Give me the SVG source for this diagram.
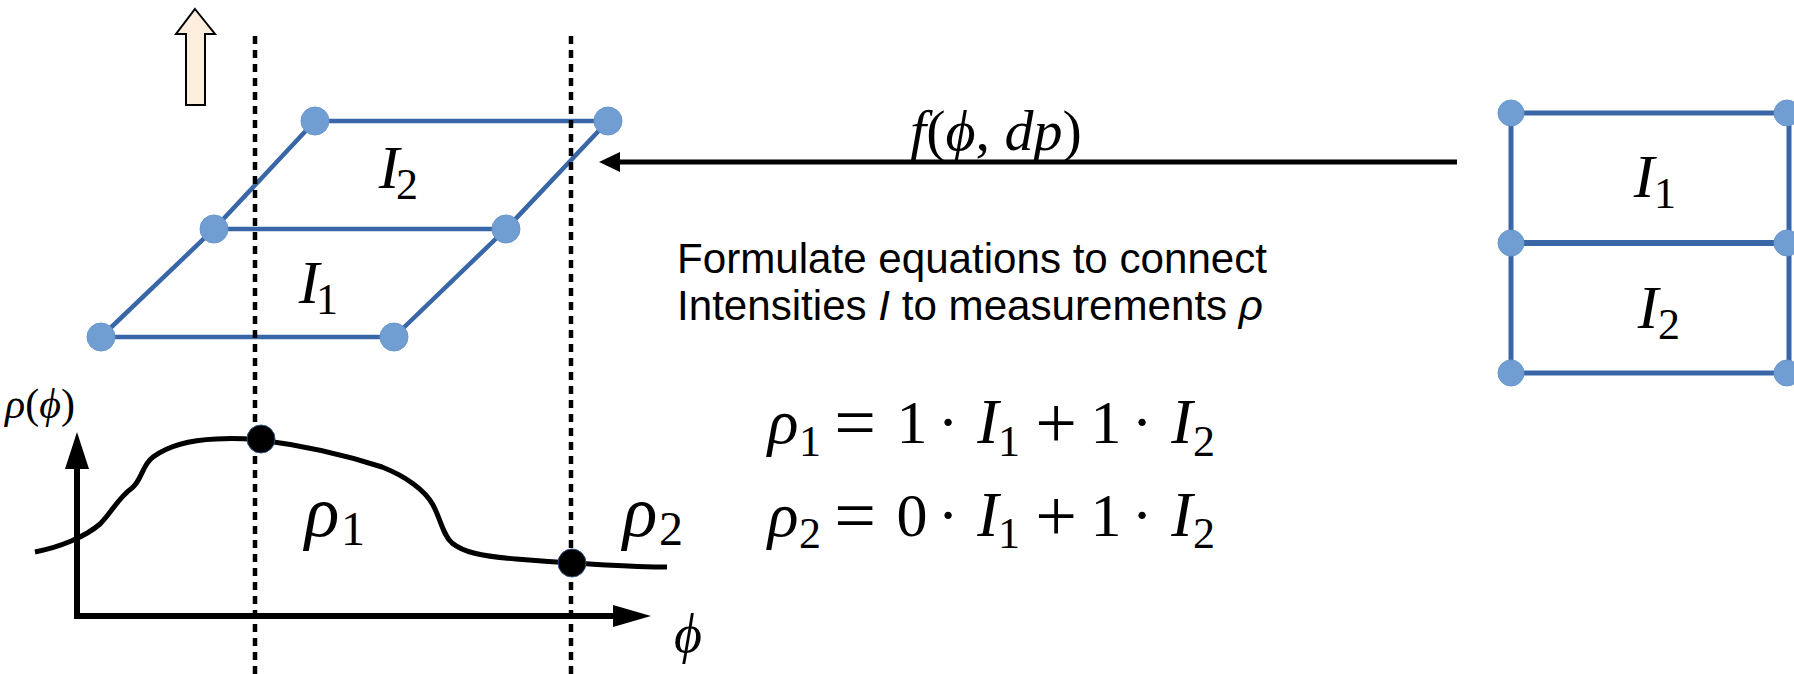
<svg xmlns="http://www.w3.org/2000/svg" width="1794" height="674" viewBox="0 0 1794 674">
<defs>
<style>
.edge{stroke:#3866A7;stroke-width:4.5;fill:none;stroke-linecap:round}
.node{fill:#709DD2;stroke:#6A97CC;stroke-width:1}
.dash{stroke:#000;stroke-width:4.5;stroke-dasharray:8 6;fill:none}
.axis{stroke:#000;stroke-width:6;fill:none}
.m{font-family:"Liberation Serif","DejaVu Serif",serif;font-style:italic;text-anchor:middle;fill:#000}
.r{font-family:"Liberation Serif","DejaVu Serif",serif;font-style:normal;text-anchor:middle;fill:#000}
.ms{font-family:"Liberation Serif","DejaVu Serif",serif;font-style:normal;fill:#000}
.it{font-style:italic}
.sans{font-family:"Liberation Sans",Arial,sans-serif;fill:#000;font-size:42px}
.dot{fill:#000;stroke:#2F4F7F;stroke-width:1}
</style>
</defs>
<rect width="1794" height="674" fill="#fff"/>

<g id="up-arrow">
<polygon points="195,9 215,34 205,34 205,105 186,105 186,34 176,34" fill="#FDEEDD" stroke="#000" stroke-width="2" stroke-linejoin="miter"/>
</g>

<g id="connectors">
<line class="edge" x1="315" y1="121" x2="608" y2="121"/>
<line class="edge" x1="214" y1="229" x2="506" y2="229"/>
<line class="edge" x1="101" y1="337" x2="394" y2="337"/>
<polyline class="edge" points="101,337 214,229 315,121"/>
<polyline class="edge" points="394,337 506,229 608,121"/>
<line class="edge" style="stroke-width:5" x1="1511" y1="113" x2="1789" y2="113"/>
<line class="edge" style="stroke-width:6" x1="1511" y1="243" x2="1789" y2="243"/>
<line class="edge" style="stroke-width:5" x1="1511" y1="373" x2="1789" y2="373"/>
<line class="edge" style="stroke-width:5" x1="1511" y1="113" x2="1511" y2="373"/>
<line class="edge" style="stroke-width:5" x1="1789" y1="113" x2="1789" y2="373"/>
<line x1="1457" y1="162" x2="612" y2="162" stroke="#000" stroke-width="5"/>
<polygon points="599,162 620,152 620,172" fill="#000"/>
</g>

<g id="grid-left">
<circle class="node" cx="315" cy="121" r="14"/>
<circle class="node" cx="608" cy="121" r="14"/>
<circle class="node" cx="214" cy="229" r="14"/>
<circle class="node" cx="506" cy="229" r="14"/>
<circle class="node" cx="101" cy="337" r="14"/>
<circle class="node" cx="394" cy="337" r="14"/>
<text class="m" x="389" y="188" font-size="62">I</text>
<text class="r" x="407" y="199" font-size="44">2</text>
<text class="m" x="309" y="303" font-size="62">I</text>
<text class="r" x="327" y="314" font-size="44">1</text>
</g>

<g id="grid-right">
<circle class="node" cx="1511" cy="113" r="13"/>
<circle class="node" cx="1787" cy="113" r="13"/>
<circle class="node" cx="1511" cy="243" r="13"/>
<circle class="node" cx="1787" cy="243" r="13"/>
<circle class="node" cx="1511" cy="373" r="13"/>
<circle class="node" cx="1787" cy="373" r="13"/>
<text class="m" x="1644" y="197" font-size="62">I</text>
<text class="r" x="1665" y="208" font-size="44">1</text>
<text class="m" x="1648" y="328" font-size="62">I</text>
<text class="r" x="1669" y="339" font-size="44">2</text>
</g>

<g id="mapping-label">
<text class="ms" x="910" y="150" font-size="58"><tspan class="it">f</tspan>(<tspan class="it">ϕ</tspan>, <tspan class="it">dp</tspan>)</text>
</g>

<g id="description">
<text class="sans" x="677" y="273" textLength="590" lengthAdjust="spacingAndGlyphs">Formulate equations to connect</text>
<text class="sans" x="677" y="320" textLength="586" lengthAdjust="spacingAndGlyphs">Intensities <tspan font-style="italic">I</tspan> to measurements <tspan font-style="italic">ρ</tspan></text>
</g>

<g id="equations">
<text class="m" x="783" y="443" font-size="64">ρ</text>
<text class="r" x="810" y="456" font-size="44">1</text>
<text class="r" x="855" y="447" font-size="74">=</text>
<text class="r" x="912" y="443" font-size="62">1</text>
<text class="r" x="948" y="443" font-size="62">·</text>
<text class="m" x="988" y="443" font-size="64">I</text>
<text class="r" x="1009" y="456" font-size="44">1</text>
<text class="r" x="1056" y="448" font-size="74">+</text>
<text class="r" x="1106" y="443" font-size="62">1</text>
<text class="r" x="1142" y="443" font-size="62">·</text>
<text class="m" x="1182" y="443" font-size="64">I</text>
<text class="r" x="1204" y="456" font-size="44">2</text>

<text class="m" x="783" y="536" font-size="64">ρ</text>
<text class="r" x="810" y="548" font-size="44">2</text>
<text class="r" x="855" y="540" font-size="74">=</text>
<text class="r" x="912" y="536" font-size="62">0</text>
<text class="r" x="948" y="536" font-size="62">·</text>
<text class="m" x="988" y="536" font-size="64">I</text>
<text class="r" x="1009" y="548" font-size="44">1</text>
<text class="r" x="1056" y="541" font-size="74">+</text>
<text class="r" x="1106" y="536" font-size="62">1</text>
<text class="r" x="1142" y="536" font-size="62">·</text>
<text class="m" x="1182" y="536" font-size="64">I</text>
<text class="r" x="1204" y="548" font-size="44">2</text>
</g>

<g id="plot">
<line class="axis" x1="77" y1="616" x2="77" y2="466"/>
<polygon points="77,432 65,469 89,469" fill="#000"/>
<line class="axis" x1="74" y1="616" x2="615" y2="616"/>
<polygon points="651,616 613,605 613,627" fill="#000"/>
<path d="M35,552 C60,547 85,537 100,524 C112,512 118,498 132,488 C142,480 142,465 153,457 C168,446 190,440 216,439 C235,438 250,439 260,440 C300,445 345,455 382,467 C405,476 425,490 433,505 C441,520 443,535 452,543 C463,552 480,556 516,559 C540,561 555,562 572,563 C610,565 640,567 667,567" fill="none" stroke="#000" stroke-width="5"/>
<text class="ms" x="5" y="418" font-size="42"><tspan class="it">ρ</tspan>(<tspan class="it">ϕ</tspan>)</text>
<text class="m" x="688" y="652" font-size="54">ϕ</text>
<text class="m" x="322" y="536" font-size="72">ρ</text>
<text class="r" x="353" y="545" font-size="48">1</text>
<text class="m" x="640" y="536" font-size="72">ρ</text>
<text class="r" x="671" y="545" font-size="48">2</text>
</g>

<g id="cut-lines">
<line class="dash" x1="255" y1="36" x2="255" y2="674"/>
<line class="dash" x1="571" y1="36" x2="571" y2="674"/>
</g>

<g id="samples">
<circle class="dot" cx="261" cy="439" r="14"/>
<circle class="dot" cx="572" cy="563" r="14"/>
</g>
</svg>
